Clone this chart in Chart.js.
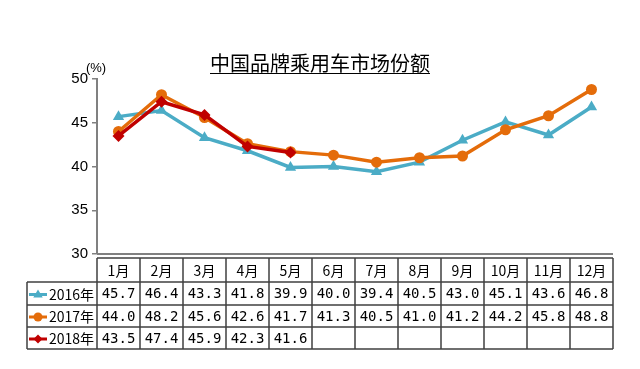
<!DOCTYPE html>
<html>
<head>
<meta charset="utf-8">
<script src="https://cdn.jsdelivr.net/npm/chart.js@4/dist/chart.umd.min.js"></script>
<style>
html,body{margin:0;padding:0;background:#fff;}
#wrap{width:640px;height:369px;position:relative;}
</style>
</head>
<body>
<div id="wrap"><canvas id="c" width="640" height="369"></canvas></div>
<script>
const chartTitle = '中国品牌乘用车市场份额';
const unitLabel = '(%)';
const categories = ['1月','2月','3月','4月','5月','6月','7月','8月','9月','10月','11月','12月'];
const seriesNames = ['2016年','2017年','2018年'];
const s2016 = [45.7,46.4,43.3,41.8,39.9,40.0,39.4,40.5,43.0,45.1,43.6,46.8];
const s2017 = [44.0,48.2,45.6,42.6,41.7,41.3,40.5,41.0,41.2,44.2,45.8,48.8];
const s2018 = [43.5,47.4,45.9,42.3,41.6];
const yMin = 30, yMax = 50, yStep = 5;

const colors = ['#4BACC6','#E46C0A','#C00000'];
const styles = ['triangle','circle','rectRot'];
const radii = [6.5,5.5,6];
const allSeries = [s2016,s2017,s2018];

function drawMarker(ctx, style, x, y, r, color){
  ctx.save();
  ctx.fillStyle = color;
  ctx.beginPath();
  if(style==='triangle'){
    ctx.moveTo(x, y - r);
    ctx.lineTo(x + r*0.95, y + r*0.6);
    ctx.lineTo(x - r*0.95, y + r*0.6);
    ctx.closePath();
  } else if(style==='circle'){
    ctx.arc(x, y, r, 0, Math.PI*2);
  } else {
    ctx.moveTo(x, y - r); ctx.lineTo(x + r, y); ctx.lineTo(x, y + r); ctx.lineTo(x - r, y); ctx.closePath();
  }
  ctx.fill();
  ctx.restore();
}

const tablePlugin = {
  id: 'tablePlugin',
  afterDraw(chart){
    const ctx = chart.ctx;
    const ca = chart.chartArea;
    const xs = chart.scales.x;
    ctx.save();
    // title
    ctx.fillStyle = '#000';
    ctx.font = '20px "Noto Sans CJK SC"';
    ctx.textAlign = 'center';
    ctx.textBaseline = 'middle';
    const tx = (ca.left + ca.right)/2 - 35;
    ctx.fillText(chartTitle, 320, 63);
    const tw = ctx.measureText(chartTitle).width;
    ctx.strokeStyle = '#000';
    ctx.lineWidth = 1;
    ctx.beginPath();
    ctx.moveTo(320 - tw/2, 73.5); ctx.lineTo(320 + tw/2, 73.5); ctx.stroke();
    // unit
    ctx.font = '13px "Liberation Sans"';
    ctx.fillText(unitLabel, ca.left - 1, 68);
    // x axis line
    ctx.strokeStyle = '#808080';
    ctx.lineWidth = 2;
    ctx.beginPath();
    ctx.moveTo(ca.left, ca.bottom); ctx.lineTo(ca.right, ca.bottom); ctx.stroke();

    // table
    const half = (ca.right - ca.left)/categories.length/2;
    const rowEdges = [258, 282, 305, 327, 349];
    const legendLeft = 27;
    ctx.strokeStyle = '#404040';
    ctx.lineWidth = 1.5;
    ctx.beginPath();
    // horizontal lines
    ctx.moveTo(ca.left, rowEdges[0]); ctx.lineTo(ca.right, rowEdges[0]);
    for(let r=1;r<rowEdges.length;r++){
      ctx.moveTo(legendLeft, rowEdges[r]); ctx.lineTo(ca.right, rowEdges[r]);
    }
    // vertical lines
    ctx.moveTo(legendLeft, rowEdges[1]); ctx.lineTo(legendLeft, rowEdges[4]);
    for(let i=0;i<=categories.length;i++){
      const xl = (i < categories.length) ? xs.getPixelForValue(i) - half : xs.getPixelForValue(categories.length-1) + half;
      ctx.moveTo(xl, rowEdges[0]); ctx.lineTo(xl, rowEdges[4]);
    }
    ctx.stroke();

    // header text
    ctx.fillStyle = '#000';
    ctx.textAlign = 'center';
    ctx.textBaseline = 'middle';
    ctx.font = '14px "Noto Sans CJK SC"';
    categories.forEach((c,i)=>{
      ctx.fillText(c, xs.getPixelForValue(i), (rowEdges[0]+rowEdges[1])/2 + 1);
    });
    // rows
    allSeries.forEach((s, r)=>{
      const yc = (rowEdges[r+1] + rowEdges[r+2])/2 + 1;
      // legend
      ctx.strokeStyle = colors[r];
      ctx.lineWidth = 3;
      ctx.beginPath(); ctx.moveTo(legendLeft + 2, yc); ctx.lineTo(legendLeft + 20, yc); ctx.stroke();
      drawMarker(ctx, styles[r], legendLeft + 11, yc, r===0?5:4.5, colors[r]);
      ctx.fillStyle = '#000';
      ctx.textAlign = 'left';
      ctx.font = '14px "Noto Sans CJK SC"';
      ctx.fillText(seriesNames[r], legendLeft + 22, yc);
      ctx.textAlign = 'center';
      ctx.font = '14px "DejaVu Sans Mono"';
      s.forEach((v,i)=>{
        ctx.fillText(v.toFixed(1), xs.getPixelForValue(i), yc);
      });
    });
    ctx.restore();
  }
};

const datasets = allSeries.map((s,i)=>({
  label: seriesNames[i],
  data: s,
  borderColor: colors[i],
  backgroundColor: colors[i],
  pointBackgroundColor: colors[i],
  pointBorderColor: colors[i],
  pointStyle: styles[i],
  pointRadius: radii[i],
  pointBorderWidth: 0,
  borderWidth: 3.5,
  tension: 0,
  order: 2 - i
}));

new Chart(document.getElementById('c'), {
  type: 'line',
  data: { labels: categories, datasets },
  options: {
    responsive: false,
    animation: false,
    devicePixelRatio: 1,
    layout: { padding: { top: 79, bottom: 115, right: 27, left: 0 } },
    plugins: { legend: { display: false }, title: { display: false }, tooltip: { enabled: false } },
    scales: {
      x: {
        type: 'category',
        offset: true,
        display: false
      },
      y: {
        min: yMin, max: yMax,
        afterFit(scale){ scale.width = 97; },
        ticks: { stepSize: yStep, color: '#000', padding: 4, font: { family: '"Liberation Sans"', size: 15 } },
        grid: { drawOnChartArea: false, tickLength: 5, color: '#808080', lineWidth: 1.5 },
        border: { display: true, color: '#808080', width: 2 }
      }
    }
  },
  plugins: [tablePlugin]
});
</script>
</body>
</html>
